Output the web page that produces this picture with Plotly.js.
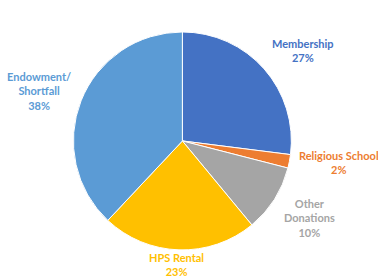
<!DOCTYPE html>
<html>
<head>
<meta charset="utf-8">
<script src="https://cdn.plot.ly/plotly-3.0.1.min.js"></script>
<style>html,body{margin:0;padding:0;background:#fff;}#chart{width:378px;height:278px;}</style>
</head>
<body>
<div id="chart"></div>
<script>
var labels = ["Membership", "Religious School", "Other<br>Donations", "HPS Rental", "Endowment/<br>Shortfall"];
var values = [27, 2, 10, 23, 38];
var colors = ["#4472C4", "#ED7D31", "#A5A5A5", "#FFC000", "#5B9BD5"];
var labelX = [0.802, 0.897, 0.820, 0.466, 0.103];
var labelY = [0.820, 0.417, 0.216, 0.047, 0.673];

var annotations = labels.map(function (l, i) {
  return {
    xref: 'paper', yref: 'paper', x: labelX[i], y: labelY[i],
    xanchor: 'center', yanchor: 'middle', showarrow: false,
    text: '<b>' + l + '<br>' + values[i] + '%</b>',
    font: {family: 'Lato, "Open Sans", sans-serif', size: 11, color: colors[i]},
    align: 'center'
  };
});

Plotly.newPlot('chart', [{
  type: 'pie',
  labels: labels,
  values: values,
  sort: false,
  direction: 'clockwise',
  rotation: 0,
  textinfo: 'none',
  hoverinfo: 'none',
  marker: {colors: colors, line: {color: '#ffffff', width: 1}},
  domain: {x: [0.193, 0.772], y: [0.101, 0.885]}
}], {
  width: 378, height: 278,
  margin: {l: 0, r: 0, t: 0, b: 0},
  showlegend: false,
  paper_bgcolor: '#ffffff',
  annotations: annotations
}, {staticPlot: true, displayModeBar: false});
</script>
</body>
</html>
